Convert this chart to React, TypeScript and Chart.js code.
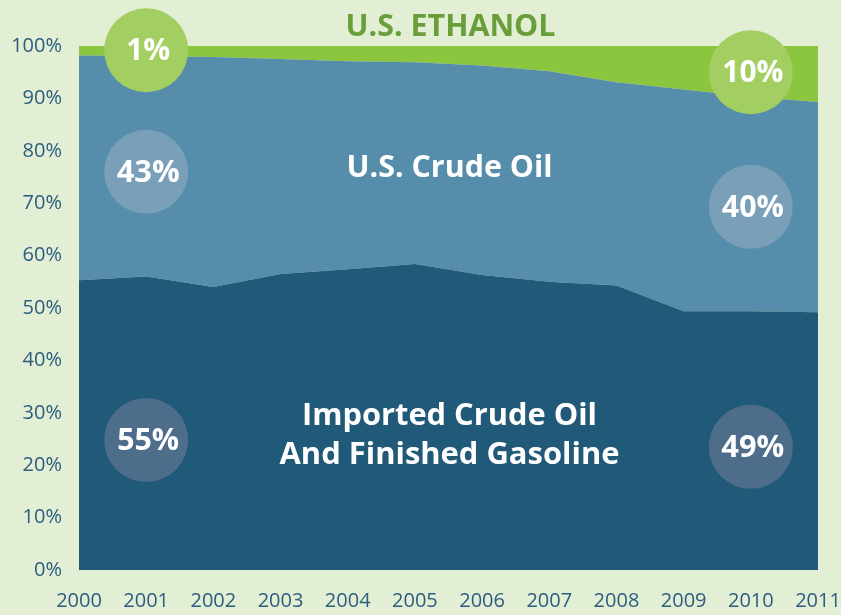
import React, { useEffect, useRef } from "react";
import { Chart, registerables } from "chart.js";

Chart.register(...registerables);

const years = ["2000", "2001", "2002", "2003", "2004", "2005", "2006", "2007", "2008", "2009", "2010", "2011"];
const importedShare = [55.3, 56.0, 54.0, 56.5, 57.4, 58.4, 56.3, 55.0, 54.3, 49.4, 49.4, 49.2];
const usCrudeShare = [42.9, 42.1, 43.9, 41.0, 39.7, 38.5, 40.0, 40.2, 38.8, 42.3, 40.9, 40.1];
const ethanolShare = [1.8, 1.9, 2.1, 2.5, 2.9, 3.1, 3.7, 4.8, 6.9, 8.3, 9.7, 10.7];
const yTicks = [0, 10, 20, 30, 40, 50, 60, 70, 80, 90, 100];

const calloutLabels = ["1%", "10%", "43%", "40%", "55%", "49%"];
const calloutYear = [1, 10, 1, 10, 1, 10];
const calloutValue = [99.2, 95.0, 76.0, 69.3, 24.8, 23.5];

const BG = "#e3efd5";
const GREEN = "#8cc63f";
const LIGHT_BLUE = "#558daa";
const DARK_BLUE = "#215a78";
const AXIS_TEXT = "#2c5d7f";
const FONT = "'Open Sans', 'Noto Sans', sans-serif";

function drawFitText(
  ctx: CanvasRenderingContext2D,
  text: string,
  cx: number,
  baseline: number,
  size: number,
  color: string,
  width: number
) {
  ctx.save();
  ctx.font = `bold ${size}px ${FONT}`;
  ctx.fillStyle = color;
  ctx.textAlign = "center";
  ctx.textBaseline = "alphabetic";
  const w = ctx.measureText(text).width;
  ctx.translate(cx, baseline);
  ctx.scale(width / w, 1);
  ctx.fillText(text, 0, 0);
  ctx.restore();
}

const decorPlugin = {
  id: "decor",
  beforeDraw(chart: any) {
    const ctx = chart.ctx;
    ctx.save();
    ctx.fillStyle = BG;
    ctx.fillRect(0, 0, chart.width, chart.height);
    ctx.restore();
  },
  afterDatasetsDraw(chart: any) {
    const ctx = chart.ctx as CanvasRenderingContext2D;
    const xs = chart.scales.x;
    const ys = chart.scales.y;
    const area = chart.chartArea;
    const mid = (area.left + area.right) / 2;

    // title
    drawFitText(ctx, "U.S. ETHANOL", mid + 2, 36, 31, "#6a9e3a", 210);
    // area labels
    drawFitText(ctx, "U.S. Crude Oil", mid + 1, 177, 30, "#ffffff", 206);
    drawFitText(ctx, "Imported Crude Oil", mid + 1, 425, 30, "#ffffff", 295);
    drawFitText(ctx, "And Finished Gasoline", mid + 1, 464, 30, "#ffffff", 340);

    const fills = ["#a3cf62", "#a3cf62", "#7a9fb9", "#7a9fb9", "#4d6d8b", "#4d6d8b"];
    const widths = [44, 61, 63, 62, 62, 63];
    calloutLabels.forEach((lab, i) => {
      const cx = xs.getPixelForValue(calloutYear[i]);
      const cy = ys.getPixelForValue(calloutValue[i]);
      ctx.save();
      ctx.beginPath();
      ctx.arc(cx, cy, 42, 0, Math.PI * 2);
      ctx.fillStyle = fills[i];
      ctx.fill();
      ctx.restore();
      drawFitText(ctx, lab, cx + 2, cy + 10, 31, "#ffffff", widths[i]);
    });
  },
};

export default function App() {
  const ref = useRef<HTMLCanvasElement | null>(null);

  useEffect(() => {
    if (!ref.current) return;
    const chart = new Chart(ref.current, {
      type: "line",
      data: {
        labels: years,
        datasets: [
          {
            label: "Imported Crude Oil And Finished Gasoline",
            data: importedShare,
            backgroundColor: DARK_BLUE,
            borderWidth: 0,
            pointRadius: 0,
            fill: "origin",
            tension: 0,
          },
          {
            label: "U.S. Crude Oil",
            data: usCrudeShare,
            backgroundColor: LIGHT_BLUE,
            borderWidth: 0,
            pointRadius: 0,
            fill: "-1",
            tension: 0,
          },
          {
            label: "U.S. Ethanol",
            data: ethanolShare,
            backgroundColor: GREEN,
            borderWidth: 0,
            pointRadius: 0,
            fill: "-1",
            tension: 0,
          },
        ],
      },
      options: {
        responsive: false,
        animation: false,
        events: [],
        layout: { padding: { top: 46, right: 23, left: 0, bottom: 0 } },
        plugins: {
          legend: { display: false },
          tooltip: { enabled: false },
        },
        scales: {
          x: {
            type: "category",
            offset: false,
            grid: { display: false, drawTicks: false },
            border: { display: false },
            ticks: {
              color: AXIS_TEXT,
              font: { family: FONT, size: 20 },
              padding: 19,
              maxRotation: 0,
              autoSkip: false,
            },
            afterFit(scale: any) {
              scale.height = 45;
              scale.paddingLeft = 0;
              scale.paddingRight = 0;
            },
          },
          y: {
            stacked: true,
            min: 0,
            max: 100,
            afterBuildTicks(scale: any) {
              scale.ticks = yTicks.map((v) => ({ value: v }));
            },
            grid: { display: false, drawTicks: false },
            border: { display: false },
            ticks: {
              color: AXIS_TEXT,
              font: { family: FONT, size: 20 },
              padding: 17,
              callback: (v: any) => `${v}%`,
            },
            afterFit(scale: any) {
              scale.width = 79;
              scale.paddingTop = 0;
              scale.paddingBottom = 0;
            },
          },
        },
      },
      plugins: [decorPlugin],
    } as any);
    return () => chart.destroy();
  }, []);

  return (
    <div style={{ position: "absolute", left: 0, top: 0, width: 841, height: 615, background: BG }}>
      <canvas ref={ref} width={841} height={615} style={{ display: "block" }} />
    </div>
  );
}
